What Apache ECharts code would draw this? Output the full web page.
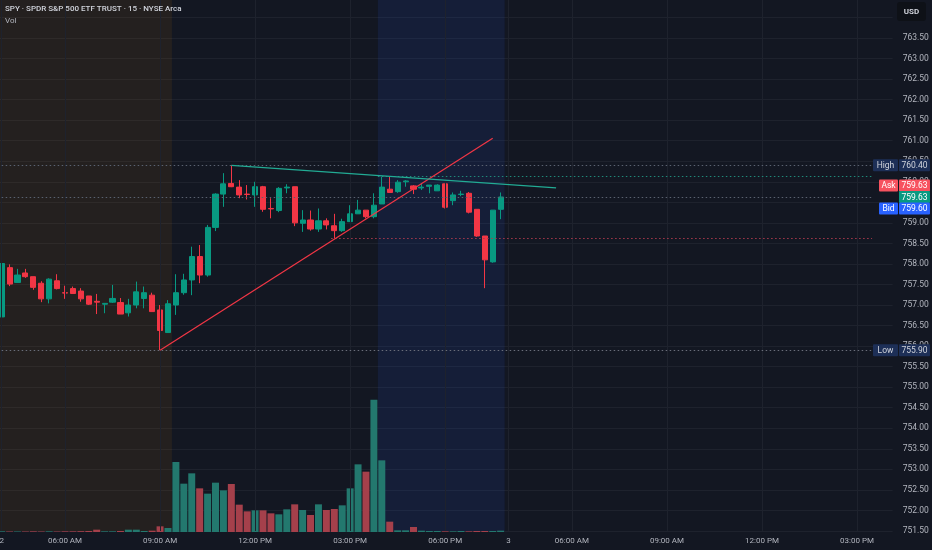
<!DOCTYPE html>
<html><head><meta charset="utf-8">
<script src="https://cdn.jsdelivr.net/npm/echarts@6/dist/echarts.min.js"></script>
<style>html,body{margin:0;padding:0;background:#131722;}#c{width:932px;height:550px;}</style>
</head><body><div id="c"></div>
<script>
// ---- data (15-min bars, day 2 from 04:00 to 19:45) ----
const opens  = [756.71,757.91,757.55,757.78,757.69,757.53,757.15,757.59,757.30,757.40,757.34,757.22,757.09,757.02,757.07,757.06,756.81,757.00,757.16,757.24,756.88,756.33,
                757.00,757.30,757.61,758.18,757.73,758.89,759.70,759.96,759.87,759.70,759.68,759.88,759.35,759.30,759.85,759.88,758.99,759.07,758.85,759.05,758.93,758.81,759.03,759.22,759.31,759.15,
                759.46,759.82,759.76,760.00,759.90,759.85,759.89,759.78,759.95,759.54,759.69,759.72,759.33,758.68,758.05,759.33];
const closes = [758.01,757.51,757.73,757.69,757.43,757.15,757.63,757.40,757.29,757.28,757.15,757.02,757.07,757.04,757.16,756.78,757.00,757.32,757.30,756.84,756.38,757.03,
                757.30,757.61,758.18,757.73,758.89,759.70,759.95,759.88,759.68,759.69,759.88,759.33,759.34,759.84,759.87,759.00,759.07,758.85,759.05,758.95,758.81,759.03,759.22,759.31,759.15,759.43,
                759.87,759.74,759.99,760.02,759.82,759.87,759.92,759.92,759.38,759.68,759.70,759.26,758.68,758.10,759.31,759.63];
const lows   = [756.70,757.46,757.54,757.66,757.37,757.07,757.04,757.38,757.15,757.27,757.08,757.00,756.78,756.80,757.05,756.78,756.72,756.92,756.92,756.84,755.90,756.32,
                756.76,757.25,757.24,757.53,757.69,758.80,759.39,759.87,759.60,759.57,759.39,759.27,759.11,759.26,759.72,758.92,758.78,758.81,758.78,758.84,758.62,758.78,759.03,759.22,759.11,759.11,
                759.46,759.74,759.73,759.88,759.70,759.80,759.72,759.78,759.35,759.43,759.65,759.23,758.66,757.41,758.03,759.09];
const highs  = [758.17,757.99,757.88,757.88,757.69,757.58,757.65,757.75,757.47,757.45,757.41,757.22,757.27,757.05,757.49,757.17,757.15,757.57,757.45,757.30,757.00,757.12,
                757.75,757.76,758.42,758.46,758.95,759.72,760.21,760.40,760.04,759.92,760.00,759.90,759.60,759.87,759.94,759.88,759.31,759.30,759.35,759.11,759.22,759.10,759.43,759.56,759.31,759.72,
                760.12,760.12,760.04,760.04,759.92,759.95,759.92,759.94,759.95,759.74,759.78,759.75,759.33,758.68,759.31,759.74];
const volumes = [20,15,15,15,20,15,20,15,20,20,25,30,70,20,20,30,70,70,30,40,170,120,
                 2100,1450,1760,1310,1150,1480,1250,1440,820,620,650,650,560,530,680,830,660,510,830,660,690,800,1310,2030,1810,3970,
                 2150,310,50,50,150,40,30,30,20,20,30,20,30,30,30,40];
const tickIndex  = [0,8,20,32,44,56,64,72,84,96,108];
const tickLabels = ['2','06:00 AM','09:00 AM','12:00 PM','03:00 PM','06:00 PM','3','06:00 AM','09:00 AM','12:00 PM','03:00 PM'];
const highLow = {high:760.40, low:755.90};
const quote = {last:759.63, ask:759.63, bid:759.60};
const levelTeal = 760.14, levelRed = 758.62;
const trendRed  = [[20,755.90],[62,761.06]];
const trendTeal = [[29,760.40],[70,759.85]];

const N = 113;
const categories = [];
for (let i = 0; i < N; i++) {
  const day = i < 64 ? 2 : 3;
  const m = 240 + (i % 64) * 15;
  categories.push(day + ' ' + String(Math.floor(m/60)).padStart(2,'0') + ':' + String(m%60).padStart(2,'0'));
}

const FONT = 'Roboto';
const UP = '#089981', DOWN = '#f23645';
const GRID_L = -2.3, GRID_R = 39.34;
const chart = echarts.init(document.getElementById('c'), null, {renderer:'canvas'});

const dotted = (p, x0, x1, color) => [{coord:[x0,p], lineStyle:{color, type:[1.5,2.5], width:1}}, {coord:[x1,p]}];

const option = {
  backgroundColor: '#131722',
  animation: false,
  title: {text:'SPY · SPDR S&P 500 ETF TRUST · 15 · NYSE Arca', left:5, top:5, padding:0,
          textStyle:{color:'#d1d4dc', fontSize:8, fontWeight:500, fontFamily:FONT}},
  grid: [
    {left:GRID_L, right:GRID_R, top:-3.08, bottom:19.04, outerBoundsMode:'none', containLabel:false},
    {left:GRID_L, right:GRID_R, top:332, bottom:18, outerBoundsMode:'none', containLabel:false}
  ],
  xAxis: [
    {type:'category', gridIndex:0, data:categories, boundaryGap:true, show:false},
    {type:'value', gridIndex:0, min:-0.5, max:N-0.5, show:false},
    {type:'category', gridIndex:1, data:categories, boundaryGap:true,
     axisLine:{show:false}, axisTick:{show:false}, splitLine:{show:false},
     axisLabel:{color:'#b2b5be', fontSize:8, fontFamily:FONT, margin:5, hideOverlap:false,
       interval:(idx)=>tickIndex.includes(idx),
       formatter:(v, idx)=>{const j = tickIndex.indexOf(idx); return j>=0 ? tickLabels[j] : '';}}}
  ],
  yAxis: [
    {type:'value', gridIndex:0, position:'right', min:751.5, max:764.5, interval:0.5,
     axisLine:{show:false}, axisTick:{show:false},
     splitLine:{show:true, lineStyle:{color:'#1e222d', width:1}},
     axisLabel:{color:'#b2b5be', fontSize:8.5, fontFamily:FONT, margin:10, formatter:v=>v.toFixed(2)}},
    {type:'value', gridIndex:1, min:0, max:6000, show:false}
  ],
  series: [
    {type:'line', name:'bg', xAxisIndex:1, yAxisIndex:0, data:[], z:1, silent:true,
     markArea:{silent:true, data:[
       [{xAxis:-0.5, itemStyle:{color:'rgba(255,152,0,0.075)'}}, {xAxis:21.5}],
       [{xAxis:47.5, itemStyle:{color:'rgba(41,98,255,0.10)'}}, {xAxis:63.5}]
     ]},
     markLine:{silent:true, symbol:'none', label:{show:false}, animation:false,
       data: tickIndex.map(i=>({xAxis:i, lineStyle:{color:'#1e222d', type:'solid', width:1}})).concat([
         dotted(highLow.high, -0.5, 109.9, '#5a6270'),
         dotted(levelTeal, 47.5, 109.9, '#1f8a7a'),
         dotted(quote.last, -0.5, 109.9, '#5a6270'),
         dotted(levelRed, 41.6, 109.9, '#a83a4d'),
         dotted(highLow.low, -0.5, 109.9, '#6a6e7a')
       ])}
    },
    {type:'bar', name:'Vol', xAxisIndex:2, yAxisIndex:1, barWidth:'88%', z:2,
     data: volumes.map((v,i)=>({value:v, itemStyle:{color: closes[i] >= opens[i] ? '#23786e' : '#a5404b'}}))},
    {type:'candlestick', name:'SPY', xAxisIndex:0, yAxisIndex:0, barWidth:5.6, z:3,
     data: opens.map((o,i)=>[o, closes[i], lows[i], highs[i]]),
     itemStyle:{color:UP, color0:DOWN, borderColor:UP, borderColor0:DOWN, borderWidth:1}},
    {type:'line', xAxisIndex:1, yAxisIndex:0, data:trendRed, showSymbol:false, symbol:'none', z:5,
     lineStyle:{color:'#f23645', width:1.2}},
    {type:'line', xAxisIndex:1, yAxisIndex:0, data:trendTeal, showSymbol:false, symbol:'none', z:5,
     lineStyle:{color:'#22ab94', width:1.2}}
  ]
};
chart.setOption(option);

// price-scale labels positioned through the y scale
const yOf = p => chart.convertToPixel({yAxisIndex:0}, p);
function box(x, w, yc, bg, text, fg) {
  return [
    {type:'rect', z:100, shape:{x:x, y:yc-6, width:w, height:12, r:1}, style:{fill:bg}},
    {type:'text', z:101, style:{text:text, x:x+w/2, y:yc+0.5, align:'center', verticalAlign:'middle',
      fill:fg, fontSize:8.5, fontFamily:FONT}}
  ];
}
const yl = yOf(quote.last);
const g = [].concat(
  box(873, 25, yOf(highLow.high), '#1d2f57', 'High', '#d1d4dc'),
  box(899, 31, yOf(highLow.high), '#1d2f57', highLow.high.toFixed(2), '#d1d4dc'),
  box(879, 19, yl-11.5, '#f7525f', 'Ask', '#ffffff'),
  box(899, 31, yl-11.5, '#f7525f', quote.ask.toFixed(2), '#ffffff'),
  box(899, 31, yl, UP, quote.last.toFixed(2), '#ffffff'),
  box(879, 19, yl+11.5, '#2962ff', 'Bid', '#ffffff'),
  box(899, 31, yl+11.5, '#2962ff', quote.bid.toFixed(2), '#ffffff'),
  box(873, 25, yOf(highLow.low), '#1d2f57', 'Low', '#d1d4dc'),
  box(899, 31, yOf(highLow.low), '#1d2f57', highLow.low.toFixed(2), '#d1d4dc'),
  [
    {type:'rect', z:99, shape:{x:893, y:0, width:39, height:24}, style:{fill:'#131722'}},
    {type:'rect', z:100, shape:{x:897, y:2, width:29, height:19, r:3}, style:{fill:'#0e1117'}},
    {type:'text', z:101, style:{text:'USD', x:911.5, y:12, align:'center', verticalAlign:'middle', fill:'#d1d4dc', fontSize:8, fontWeight:'bold', fontFamily:FONT}},
    {type:'text', z:101, style:{text:'Vol', x:5, y:17, fill:'#b2b5be', fontSize:8, fontFamily:FONT}}
  ]
);
chart.setOption({graphic:g});
</script></body></html>
